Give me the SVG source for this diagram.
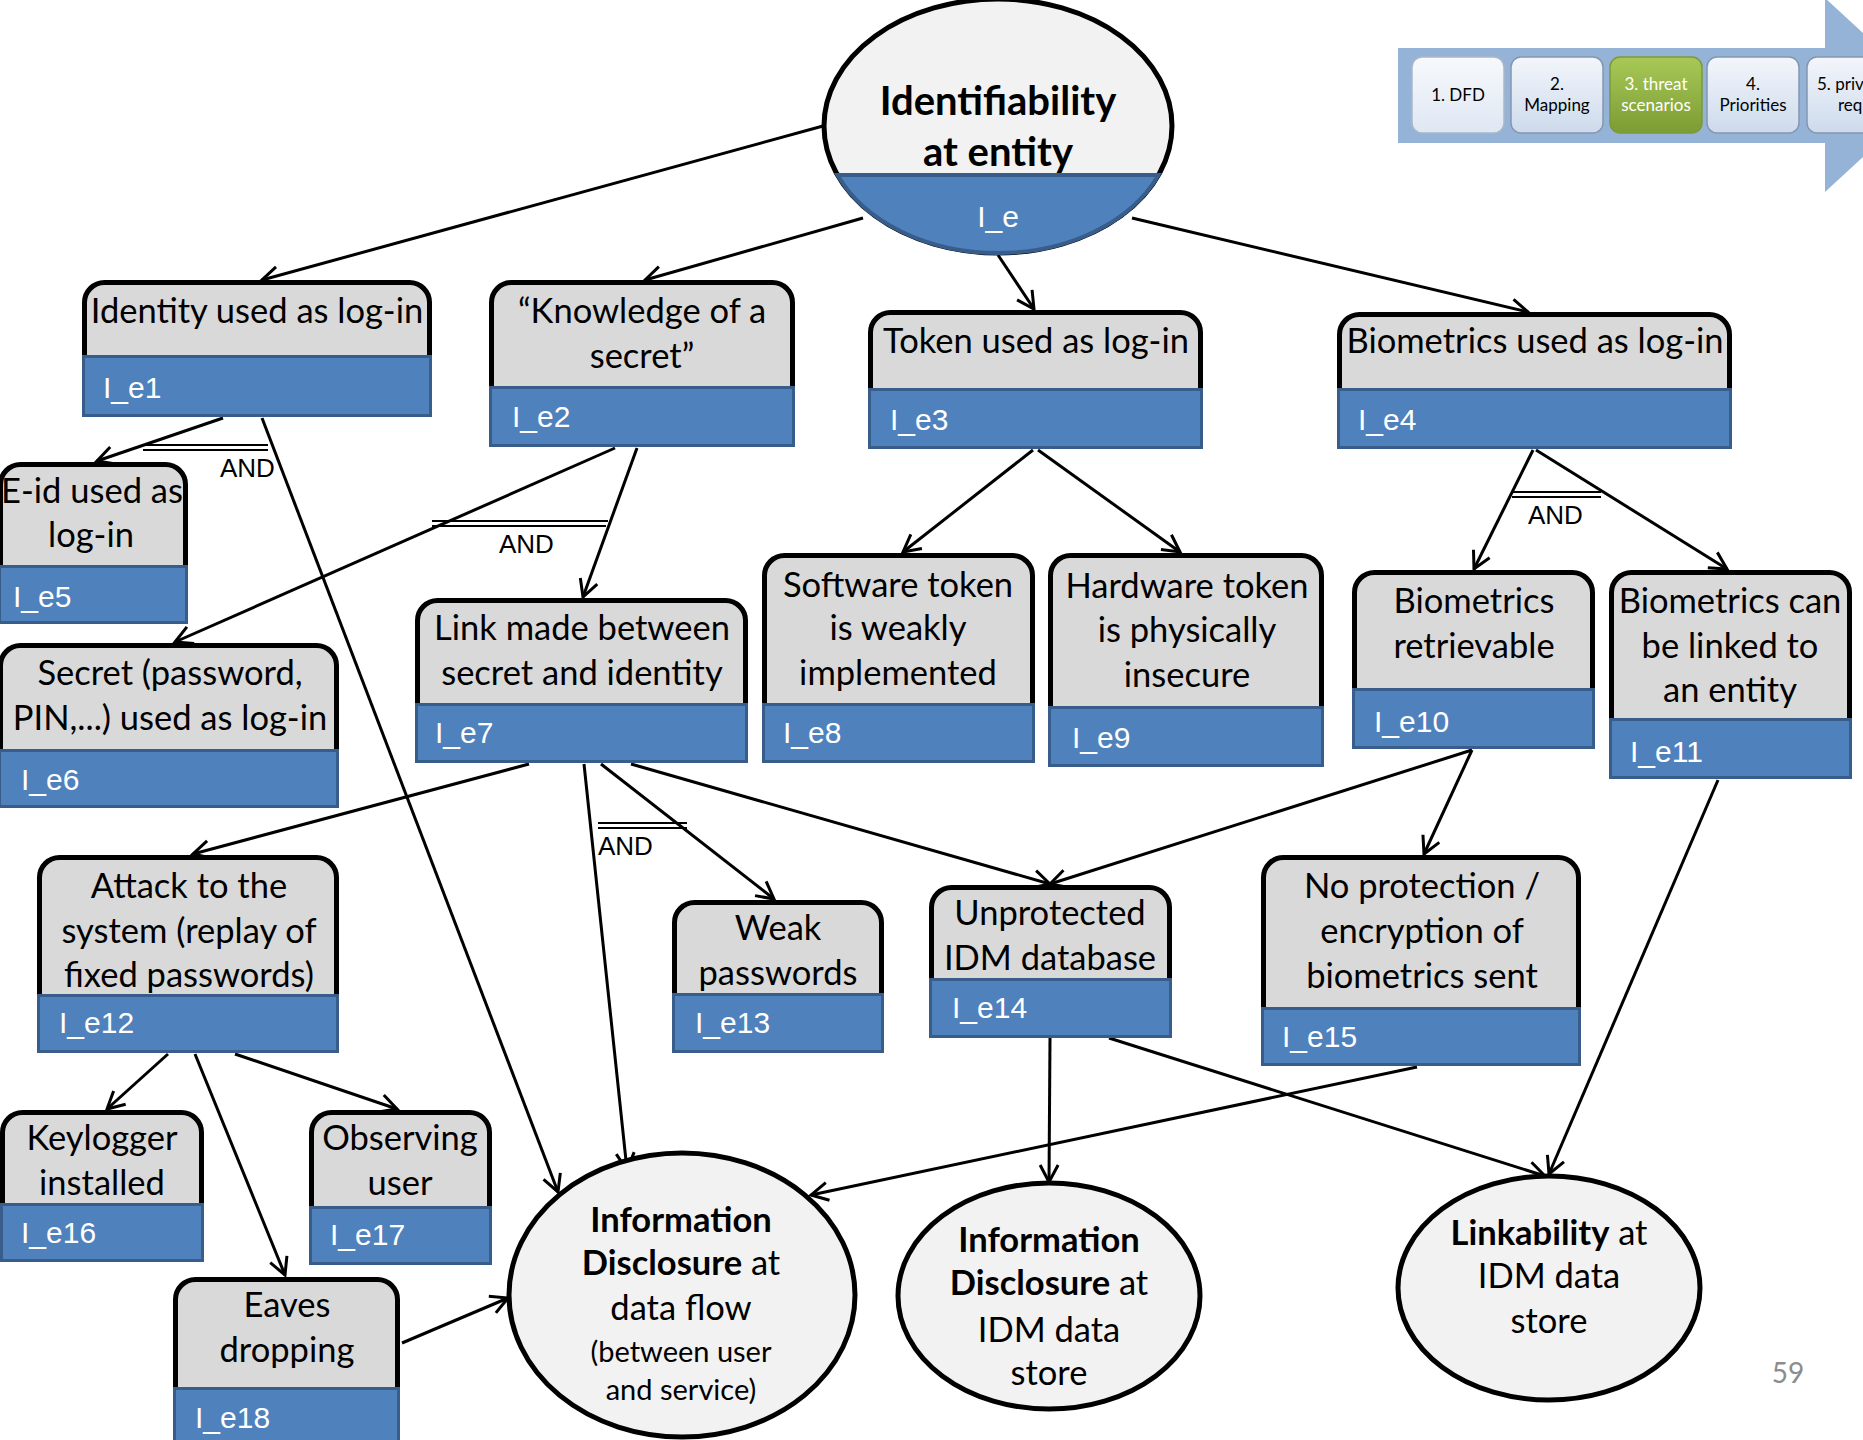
<svg xmlns="http://www.w3.org/2000/svg" width="1863" height="1440" viewBox="0 0 1863 1440">
<style>
.g{fill:#d9d9d9;stroke:#000;stroke-width:5}
.b{fill:#4f81bd;stroke:#385d8a;stroke-width:3}
.t{font-family:Lato,"Liberation Sans",sans-serif;font-size:34.5px;fill:#000;text-anchor:middle}
.id{font-family:"Liberation Sans",Arial,sans-serif;font-size:30px;fill:#fff}
.ell{fill:#f2f2f2;stroke:#000;stroke-width:5}
.bold{font-weight:bold}
.c line{stroke:#000;stroke-width:3;fill:none;marker-end:url(#ah)}
.and line{stroke:#000;stroke-width:2}
.andt{font-family:"Liberation Sans",Arial,sans-serif;font-size:26px;fill:#000}
.pb{fill:url(#pg);stroke:#8497b0;stroke-width:1.5}
.pt{font-family:Lato,"Liberation Sans",sans-serif;font-size:17px;fill:#000;text-anchor:middle}
</style>
<defs>
<marker id="ah" viewBox="-20 -12 24 24" refX="0" refY="0" markerWidth="24" markerHeight="24" markerUnits="userSpaceOnUse" orient="auto">
<path d="M-17,-9 L0,0 L-17,9" fill="none" stroke="#000" stroke-width="3"/>
</marker>
<linearGradient id="pg" x1="0" y1="0" x2="0" y2="1"><stop offset="0" stop-color="#f3f6fb"/><stop offset="1" stop-color="#cddaec"/></linearGradient>
<linearGradient id="pg1" x1="0" y1="0" x2="0" y2="1"><stop offset="0" stop-color="#f7f9fc"/><stop offset="1" stop-color="#dfe7f3"/></linearGradient>
<linearGradient id="gg" x1="0" y1="0" x2="0" y2="1"><stop offset="0" stop-color="#a8c957"/><stop offset="1" stop-color="#7c9c34"/></linearGradient>
</defs>

<g id="process">
<polygon points="1398,48 1825,48 1825,-2 1930,95 1825,192 1825,143 1398,143" fill="#95b3d7"/>
<rect x="1412" y="57" width="92" height="76" rx="10" fill="url(#pg1)" stroke="#aab6c8" stroke-width="1.5"/>
<text class="pt" x="1458" y="101">1. DFD</text>
<rect class="pb" x="1511" y="57" width="92" height="76" rx="10"/>
<text class="pt" x="1557" y="90">2.</text><text class="pt" x="1557" y="111">Mapping</text>
<rect x="1610" y="57" width="92" height="76" rx="10" fill="url(#gg)" stroke="#7a9a3a" stroke-width="1.5"/>
<text class="pt" x="1656" y="90" style="fill:#fff">3. threat</text><text class="pt" x="1656" y="111" style="fill:#fff">scenarios</text>
<rect class="pb" x="1707" y="57" width="92" height="76" rx="10"/>
<text class="pt" x="1753" y="90">4.</text><text class="pt" x="1753" y="111">Priorities</text>
<rect class="pb" x="1807" y="57" width="92" height="76" rx="10"/>
<text class="pt" x="1817" y="90" style="text-anchor:start">5. priv</text><text class="pt" x="1838" y="111" style="text-anchor:start">req</text>
</g>

<g id="connectors" class="c">
<line x1="823" y1="126" x2="262" y2="280"/>
<line x1="863" y1="218" x2="645" y2="280"/>
<line x1="998" y1="255" x2="1034" y2="309"/>
<line x1="1132" y1="218" x2="1528" y2="312"/>
<line x1="223" y1="418" x2="97" y2="461"/>
<line x1="262" y1="418" x2="558" y2="1192"/>
<line x1="615" y1="448" x2="175" y2="642"/>
<line x1="637" y1="448" x2="583" y2="597"/>
<line x1="1033" y1="450" x2="903" y2="552"/>
<line x1="1038" y1="450" x2="1180" y2="552"/>
<line x1="1533" y1="450" x2="1474" y2="569"/>
<line x1="1536" y1="450" x2="1727" y2="569"/>
<line x1="529" y1="764" x2="193" y2="854"/>
<line x1="584" y1="764" x2="627" y2="1170"/>
<line x1="601" y1="764" x2="774" y2="899"/>
<line x1="631" y1="764" x2="1050" y2="884"/>
<line x1="1472" y1="750" x2="1050" y2="884"/>
<line x1="1472" y1="750" x2="1424" y2="854"/>
<line x1="1718" y1="780" x2="1549" y2="1174"/>
<line x1="168" y1="1054" x2="107" y2="1109"/>
<line x1="195" y1="1054" x2="285" y2="1275"/>
<line x1="235" y1="1054" x2="397" y2="1109"/>
<line x1="1050" y1="1038" x2="1049" y2="1182"/>
<line x1="1109" y1="1038" x2="1545" y2="1176"/>
<line x1="1417" y1="1067" x2="811" y2="1195"/>
<line x1="402" y1="1343" x2="508" y2="1298"/>
</g>

<g id="and-gates" class="and">
<line x1="143" y1="445" x2="268" y2="445"/><line x1="143" y1="450" x2="268" y2="450"/>
<text class="andt" x="220" y="477">AND</text>
<line x1="432" y1="521" x2="608" y2="521"/><line x1="432" y1="526" x2="606" y2="526"/>
<text class="andt" x="499" y="553">AND</text>
<line x1="1512" y1="492" x2="1601" y2="492"/><line x1="1512" y1="497" x2="1601" y2="497"/>
<text class="andt" x="1528" y="524">AND</text>
<line x1="598" y1="823" x2="687" y2="823"/><line x1="598" y1="828" x2="687" y2="828"/>
<text class="andt" x="598" y="855">AND</text>
</g>

<g id="root">
<ellipse class="ell" cx="998" cy="126" rx="174" ry="127"/>
<text class="t bold" x="998" y="115" style="font-size:40px">Identifiability</text>
<text class="t bold" x="998" y="166" style="font-size:40px">at entity</text>
<path d="M837.5,175 H1158.5 A174,127 0 0 1 837.5,175 Z" fill="#4f81bd" stroke="#385d8a" stroke-width="4"/>
<text class="id" x="998" y="227" style="text-anchor:middle">I_e</text>
</g>

<g id="e1"><rect class="g" x="84.5" y="282.5" width="345" height="92.5" rx="20"/>
<text class="t" x="257" y="323">Identity used as log-in</text>
<rect class="b" x="83.5" y="356.5" width="347" height="59"/><text class="id" x="103" y="398">I_e1</text></g>

<g id="e2"><rect class="g" x="491.5" y="282.5" width="301" height="123.5" rx="20"/>
<text class="t" x="642" y="323">“Knowledge of a</text><text class="t" x="642" y="368">secret”</text>
<rect class="b" x="490.5" y="387.5" width="303" height="58"/><text class="id" x="512" y="427">I_e2</text></g>

<g id="e3"><rect class="g" x="870.5" y="312.5" width="330" height="95.5" rx="20"/>
<text class="t" x="1036" y="353">Token used as log-in</text>
<rect class="b" x="869.5" y="389.5" width="332" height="58"/><text class="id" x="890" y="430">I_e3</text></g>

<g id="e4"><rect class="g" x="1339.5" y="314.5" width="390" height="93.5" rx="20"/>
<text class="t" x="1535" y="353">Biometrics used as log-in</text>
<rect class="b" x="1338.5" y="389.5" width="392" height="58"/><text class="id" x="1358" y="430">I_e4</text></g>

<g id="e5"><rect class="g" x="0.5" y="464.5" width="185" height="120.5" rx="20"/>
<text class="t" x="92" y="503">E-id used as</text><text class="t" x="91" y="547">log-in</text>
<rect class="b" x="-0.5" y="566.5" width="187" height="56"/><text class="id" x="13" y="607">I_e5</text></g>

<g id="e6"><rect class="g" x="0.5" y="645.5" width="336" height="123.5" rx="20"/>
<text class="t" x="170" y="685">Secret (password,</text><text class="t" x="170" y="730">PIN,...) used as log-in</text>
<rect class="b" x="-0.5" y="750.5" width="338" height="56"/><text class="id" x="21" y="790">I_e6</text></g>

<g id="e7"><rect class="g" x="417.5" y="600.5" width="328" height="122.5" rx="20"/>
<text class="t" x="582" y="640">Link made between</text><text class="t" x="582" y="685">secret and identity</text>
<rect class="b" x="416.5" y="704.5" width="330" height="57"/><text class="id" x="435" y="743">I_e7</text></g>

<g id="e8"><rect class="g" x="764.5" y="555.5" width="268" height="167.5" rx="20"/>
<text class="t" x="898" y="597">Software token</text><text class="t" x="898" y="640">is weakly</text><text class="t" x="898" y="685">implemented</text>
<rect class="b" x="763.5" y="704.5" width="270" height="57"/><text class="id" x="783" y="743">I_e8</text></g>

<g id="e9"><rect class="g" x="1050.5" y="555.5" width="271" height="170.5" rx="20"/>
<text class="t" x="1187" y="598">Hardware token</text><text class="t" x="1187" y="642">is physically</text><text class="t" x="1187" y="687">insecure</text>
<rect class="b" x="1049.5" y="707.5" width="273" height="58"/><text class="id" x="1072" y="748">I_e9</text></g>

<g id="e10"><rect class="g" x="1354.5" y="572.5" width="238" height="135.5" rx="20"/>
<text class="t" x="1474" y="613">Biometrics</text><text class="t" x="1474" y="658">retrievable</text>
<rect class="b" x="1353.5" y="689.5" width="240" height="58"/><text class="id" x="1374" y="732">I_e10</text></g>

<g id="e11"><rect class="g" x="1611.5" y="572.5" width="238" height="165.5" rx="20"/>
<text class="t" x="1730" y="613">Biometrics can</text><text class="t" x="1730" y="658">be linked to</text><text class="t" x="1730" y="702">an entity</text>
<rect class="b" x="1610.5" y="719.5" width="240" height="58"/><text class="id" x="1630" y="762">I_e11</text></g>

<g id="e12"><rect class="g" x="39.5" y="857.5" width="297" height="156.5" rx="20"/>
<text class="t" x="189" y="898">Attack to the</text><text class="t" x="189" y="943">system (replay of</text><text class="t" x="189" y="987">fixed passwords)</text>
<rect class="b" x="38.5" y="995.5" width="299" height="56"/><text class="id" x="59" y="1033">I_e12</text></g>

<g id="e13"><rect class="g" x="674.5" y="902.5" width="207" height="110.5" rx="20"/>
<text class="t" x="778" y="940">Weak</text><text class="t" x="778" y="985">passwords</text>
<rect class="b" x="673.5" y="994.5" width="209" height="57"/><text class="id" x="695" y="1033">I_e13</text></g>

<g id="e14"><rect class="g" x="931.5" y="887.5" width="238" height="110.5" rx="20"/>
<text class="t" x="1050" y="925">Unprotected</text><text class="t" x="1050" y="970">IDM database</text>
<rect class="b" x="930.5" y="979.5" width="240" height="57"/><text class="id" x="952" y="1018">I_e14</text></g>

<g id="e15"><rect class="g" x="1263.5" y="857.5" width="315" height="169.5" rx="20"/>
<text class="t" x="1422" y="898">No protection /</text><text class="t" x="1422" y="943">encryption of</text><text class="t" x="1422" y="988">biometrics sent</text>
<rect class="b" x="1262.5" y="1008.5" width="317" height="56"/><text class="id" x="1282" y="1047">I_e15</text></g>

<g id="e16"><rect class="g" x="2.5" y="1112.5" width="199" height="110.5" rx="20"/>
<text class="t" x="102" y="1150">Keylogger</text><text class="t" x="102" y="1195">installed</text>
<rect class="b" x="1.5" y="1204.5" width="201" height="56"/><text class="id" x="21" y="1243">I_e16</text></g>

<g id="e17"><rect class="g" x="311.5" y="1112.5" width="178" height="113.5" rx="20"/>
<text class="t" x="400" y="1150">Observing</text><text class="t" x="400" y="1195">user</text>
<rect class="b" x="310.5" y="1207.5" width="180" height="56"/><text class="id" x="330" y="1245">I_e17</text></g>

<g id="e18"><rect class="g" x="175.5" y="1279.5" width="222" height="127.5" rx="20"/>
<text class="t" x="287" y="1317">Eaves</text><text class="t" x="287" y="1362">dropping</text>
<rect class="b" x="174.5" y="1388.5" width="224" height="60"/><text class="id" x="195" y="1428">I_e18</text></g>

<g id="info-flow"><ellipse class="ell" cx="682" cy="1295" rx="173" ry="142"/>
<text class="t bold" x="681" y="1232">Information</text>
<text class="t" x="681" y="1275"><tspan class="bold">Disclosure</tspan> at</text>
<text class="t" x="681" y="1320">data flow</text>
<text class="t" x="681" y="1362" style="font-size:29px">(between user</text>
<text class="t" x="681" y="1400" style="font-size:29px">and service)</text></g>

<g id="info-store"><ellipse class="ell" cx="1049" cy="1296" rx="151" ry="113"/>
<text class="t bold" x="1049" y="1252">Information</text>
<text class="t" x="1049" y="1295"><tspan class="bold">Disclosure</tspan> at</text>
<text class="t" x="1049" y="1342">IDM data</text>
<text class="t" x="1049" y="1385">store</text></g>

<g id="linkability"><ellipse class="ell" cx="1549" cy="1288" rx="151" ry="112"/>
<text class="t" x="1549" y="1245"><tspan class="bold">Linkability</tspan> at</text>
<text class="t" x="1549" y="1288">IDM data</text>
<text class="t" x="1549" y="1333">store</text></g>

<text x="1788" y="1383" style="font-family:Lato,'Liberation Sans',sans-serif;font-size:28px;fill:#8c8c8c;text-anchor:middle">59</text>
</svg>
